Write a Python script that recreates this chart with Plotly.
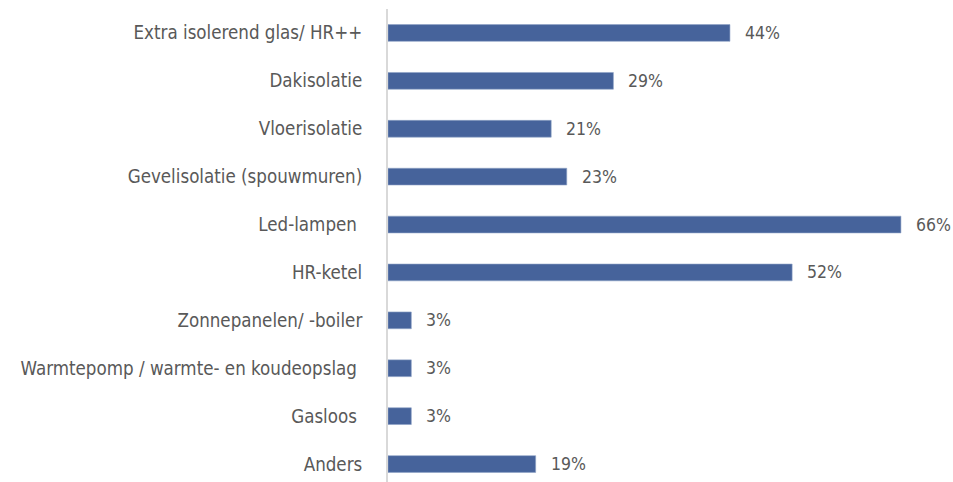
import plotly.graph_objects as go

categories = [
    "Extra isolerend glas/ HR++",
    "Dakisolatie",
    "Vloerisolatie",
    "Gevelisolatie (spouwmuren)",
    "Led-lampen\u00a0",
    "HR-ketel",
    "Zonnepanelen/ -boiler",
    "Warmtepomp / warmte- en koudeopslag\u00a0",
    "Gasloos\u00a0",
    "Anders",
]
values = [0.44, 0.29, 0.21, 0.23, 0.66, 0.52, 0.03, 0.03, 0.03, 0.19]
value_labels = ["44%", "29%", "21%", "23%", "66%", "52%", "3%", "3%", "3%", "19%"]

FONT = "DejaVu Sans Condensed, Liberation Sans Narrow, sans-serif"
BAR = "#46639B"
TXT = "#595959"

fig = go.Figure()
fig.add_trace(go.Bar(
    y=categories,
    x=values,
    orientation="h",
    marker=dict(color=BAR, line=dict(color="#8fa3c6", width=0.6)),
    hoverinfo="skip",
))

for c, v, t in zip(categories, values, value_labels):
    fig.add_annotation(
        x=v, y=c, text=t, showarrow=False, xanchor="left", xshift=13,
        font=dict(family=FONT, size=17.5, color=TXT),
    )

fig.update_layout(
    width=953,
    height=482,
    margin=dict(l=388, r=0, t=9, b=0, autoexpand=False),
    paper_bgcolor="white",
    plot_bgcolor="white",
    bargap=0.65,
    showlegend=False,
    xaxis=dict(
        range=[0, 0.727],
        visible=False,
        showgrid=False,
        zeroline=False,
    ),
    yaxis=dict(
        type="category",
        categoryorder="array",
        categoryarray=categories,
        range=[9.375, -0.5],
        automargin=False,
        showline=True,
        linecolor="#d9d9d9",
        linewidth=2,
        ticks="",
        ticklabelstandoff=20,
        tickfont=dict(family=FONT, size=18.6, color=TXT),
        showgrid=False,
    ),
)

fig.write_html("out.html")
